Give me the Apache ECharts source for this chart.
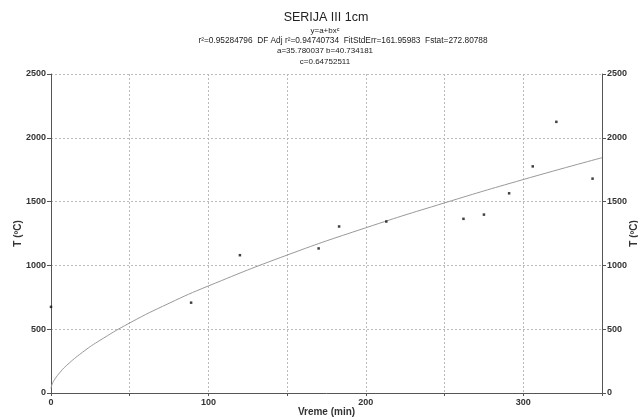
<!DOCTYPE html>
<html><head><meta charset="utf-8">
<script src="https://cdn.jsdelivr.net/npm/echarts@6/dist/echarts.min.js"></script>
<style>html,body{margin:0;padding:0;background:#fff}#c{width:638px;height:419px}</style>
</head><body><div id="c"></div>
<script>
// Measured points
const pointX = [0, 89, 120, 170, 183, 213, 262, 275, 291, 306, 321, 344];
const pointY = [675, 708, 1080, 1133, 1305, 1344, 1365, 1398, 1565, 1776, 2125, 1680];
// Fitted curve
const curveX = [0, 0.5, 1, 2, 5, 10, 20, 30, 50, 75, 100, 150, 200, 250, 300, 350];
const curveY = [36, 62, 77, 100, 151, 217, 319, 404, 549, 703, 839, 1081, 1295, 1490, 1673, 1844];
const xTicks = [0, 100, 200, 300];
const yTicks = [0, 500, 1000, 1500, 2000, 2500];

const titleLines = [
  'SERIJA III 1cm',
  'y=a+bx\u1D9C',
  'r\u00B2=0.95284796  DF Adj r\u00B2=0.94740734  FitStdErr=161.95983  Fstat=272.80788',
  'a=35.780037 b=40.734181',
  'c=0.64752511'
];

const chart = echarts.init(document.getElementById('c'));
const ff = '"Liberation Sans", Arial, sans-serif';
const axisLine = {show: true, lineStyle: {color: '#555', width: 1}};
const grid = {show: true, lineStyle: {color: '#bbb', type: [2, 2], width: 1}};
const yAxisBase = {
  type: 'value', min: 0, max: 2500, interval: 500,
  axisLine: axisLine,
  axisTick: {show: true, length: 4, lineStyle: {color: '#555'}},
  axisLabel: {fontSize: 9, fontWeight: 'bold', color: '#333', fontFamily: ff, margin: 5,
    formatter: v => yTicks.includes(v) ? String(v) : ''},
  name: 'T (\u00BAC)', nameLocation: 'middle', nameRotate: 90, nameMoveOverlap: false,
  nameTextStyle: {fontSize: 10, fontWeight: 'bold', color: '#333', fontFamily: ff}
};
function txt(s, x, y, size) {
  return {type: 'text', x: x, y: y, style: {text: s, font: size + 'px ' + ff, fill: '#222',
    align: 'center', verticalAlign: 'middle'}};
}
chart.setOption({
  animation: false,
  backgroundColor: '#fff',
  graphic: [
    txt(titleLines[0], 326, 18, 12.5),
    txt(titleLines[1], 325, 31, 8),
    txt(titleLines[2], 343, 41, 8.3),
    txt(titleLines[3], 325, 51, 8),
    txt(titleLines[4], 325, 61.5, 8)
  ],
  grid: {left: 51, right: 36, top: 74, bottom: 26, containLabel: false, outerBoundsMode: 'none'},
  xAxis: {
    type: 'value', min: 0, max: 350, interval: 50,
    axisLine: axisLine,
    axisTick: {show: true, length: 3, lineStyle: {color: '#555'}},
    splitLine: grid,
    axisLabel: {fontSize: 9, fontWeight: 'bold', color: '#333', fontFamily: ff, margin: 5,
      formatter: v => xTicks.includes(v) ? String(v) : ''},
    name: 'Vreme (min)', nameLocation: 'middle', nameGap: 14, nameMoveOverlap: false,
    nameTextStyle: {fontSize: 10, fontWeight: 'bold', color: '#333', fontFamily: ff}
  },
  yAxis: [
    Object.assign({}, yAxisBase, {position: 'left', splitLine: grid, nameGap: 28}),
    Object.assign({}, yAxisBase, {position: 'right', splitLine: {show: false}, nameGap: 27})
  ],
  series: [
    {type: 'line', data: curveX.map((x, i) => [x, curveY[i]]), smooth: true, showSymbol: false,
     lineStyle: {color: '#999', width: 1}, z: 2},
    {type: 'scatter', data: pointX.map((x, i) => [x, pointY[i]]), symbol: 'rect', symbolSize: 2.5,
     itemStyle: {color: '#111'}, z: 3}
  ]
});
</script></body></html>
